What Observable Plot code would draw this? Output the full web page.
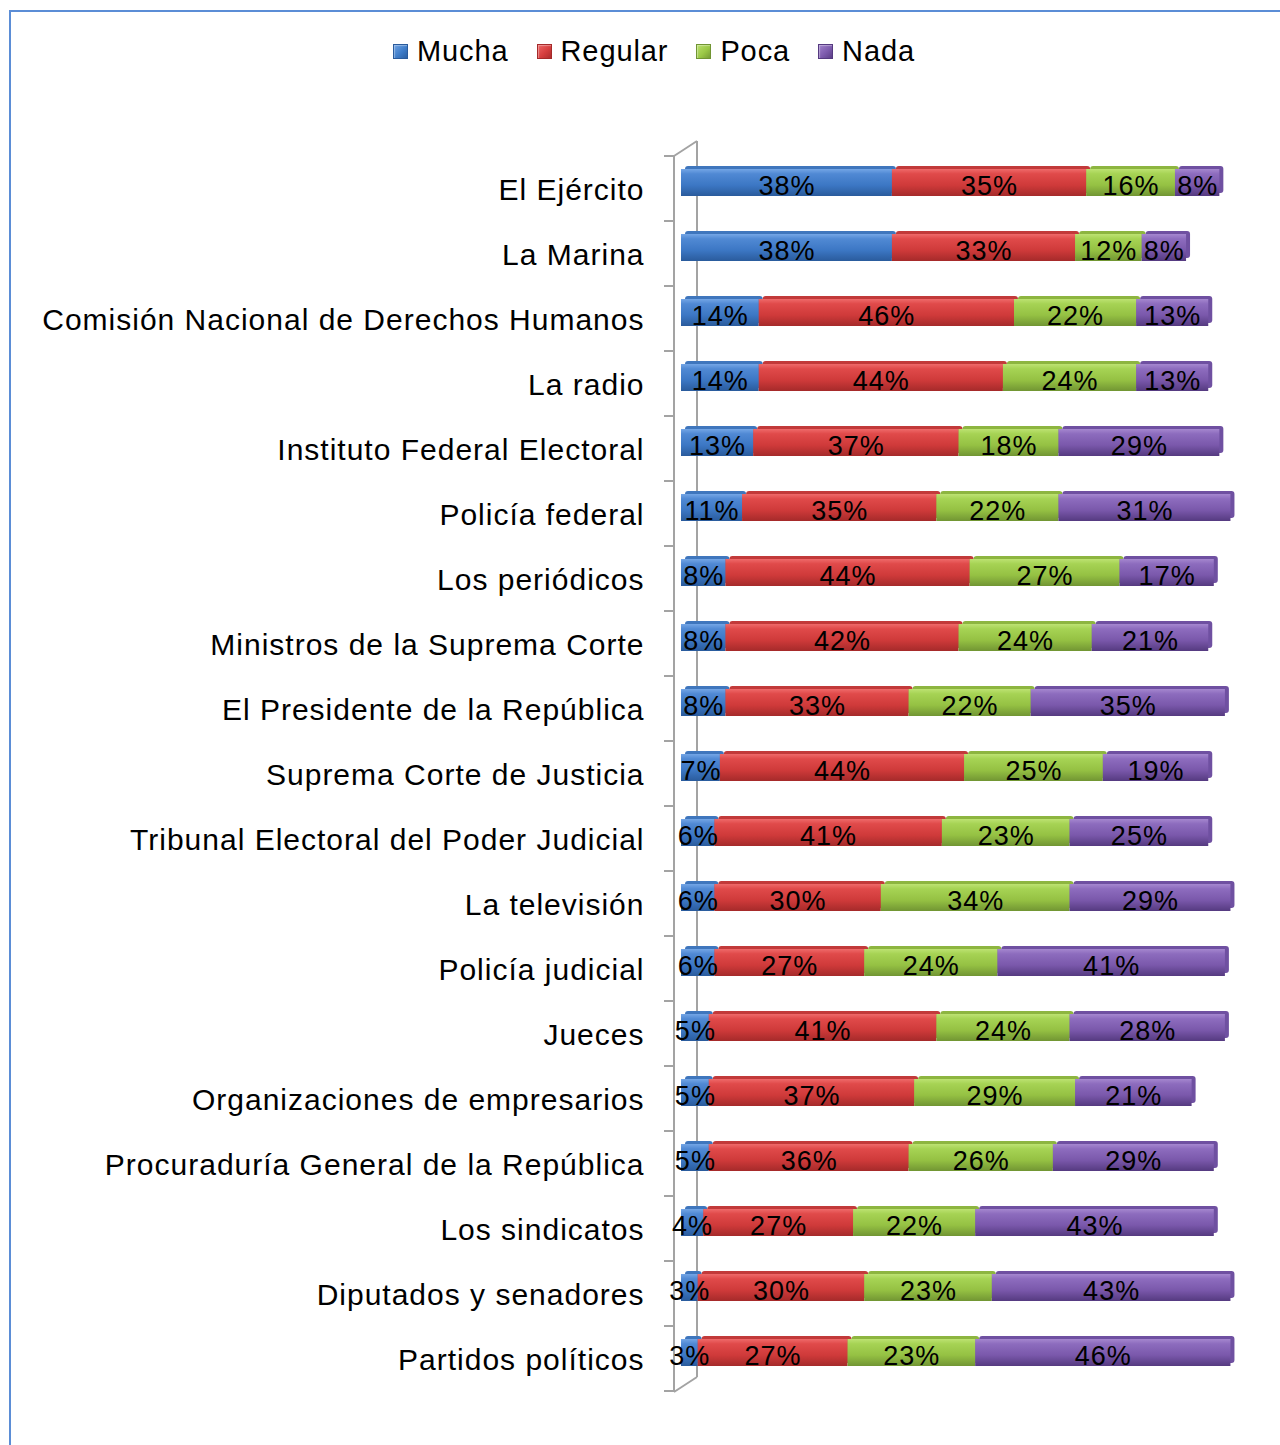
<!DOCTYPE html>
<html>
<head>
<meta charset="utf-8">
<script src="https://cdn.jsdelivr.net/npm/d3@7"></script>
<script src="https://cdn.jsdelivr.net/npm/@observablehq/plot@0.6"></script>
<style>
  html, body { margin: 0; padding: 0; background: #fff; }
  body { width: 1280px; height: 1445px; overflow: hidden; position: relative; font-family: "Liberation Sans", Arial, sans-serif; }
  #frame { position: absolute; left: 9px; top: 10px; width: 1400px; height: 1600px;
           border-top: 2px solid #5b8dd6; border-left: 2px solid #5b8dd6; pointer-events: none; }
  #legend { height: 100px; display: flex; justify-content: center; align-items: flex-start;
            padding-top: 33px; box-sizing: border-box; padding-left: 28px; }
  .item { display: flex; align-items: center; margin: 0 14px; font-size: 29px; letter-spacing: 0.9px; color: #000; line-height: 36px; }
  .sw { width: 15px; height: 15px; margin-right: 9px; box-sizing: border-box; }
  #chart svg text { letter-spacing: 1px; }
  #chart svg g.cats text { letter-spacing: 0.9px; }
</style>
</head>
<body>
<div id="legend"></div>
<div id="chart"></div>
<div id="frame"></div>
<script>
const categories = [
  "El Ejército",
  "La Marina",
  "Comisión Nacional de Derechos Humanos",
  "La radio",
  "Instituto Federal Electoral",
  "Policía federal",
  "Los periódicos",
  "Ministros de la Suprema Corte",
  "El Presidente de la República",
  "Suprema Corte de Justicia",
  "Tribunal Electoral del Poder Judicial",
  "La televisión",
  "Policía judicial",
  "Jueces",
  "Organizaciones de empresarios",
  "Procuraduría General de la República",
  "Los sindicatos",
  "Diputados y senadores",
  "Partidos políticos"
];
const series = ["Mucha", "Regular", "Poca", "Nada"];
const mucha   = [38, 38, 14, 14, 13, 11,  8,  8,  8,  7,  6,  6,  6,  5,  5,  5,  4,  3,  3];
const regular = [35, 33, 46, 44, 37, 35, 44, 42, 33, 44, 41, 30, 27, 41, 37, 36, 27, 30, 27];
const poca    = [16, 12, 22, 24, 18, 22, 27, 24, 22, 25, 23, 34, 24, 24, 29, 26, 22, 23, 23];
const nada    = [ 8,  8, 13, 13, 29, 31, 17, 21, 35, 19, 25, 29, 41, 28, 21, 29, 43, 43, 46];

const seriesValues = [mucha, regular, poca, nada];
const baseColors = ["#3f7dc9", "#d63e3e", "#9bc846", "#7d5bad"];
const depthColors = ["#3f76bd", "#c23a3a", "#8db540", "#6f50a1"];
const gradStops = [
  ["#74a6e6", "#5089d4", "#3c77c4", "#2a5b9c"],
  ["#ef6a6a", "#e04a4a", "#cf3a3a", "#a52a2a"],
  ["#bde272", "#a6d354", "#95c143", "#719533"],
  ["#a587cf", "#8d6cbe", "#7a58ab", "#553a80"]
];

const data = categories.flatMap((c, i) =>
  series.map((s, j) => ({category: c, series: s, k: j, value: seriesValues[j][i]}))
);

// Legend
const legend = d3.select("#legend");
series.forEach((s, j) => {
  const it = legend.append("div").attr("class", "item");
  it.append("div").attr("class", "sw")
    .style("background", `linear-gradient(135deg, ${gradStops[j][0]}, ${baseColors[j]} 55%, ${gradStops[j][3]})`)
    .style("box-shadow", `inset 0 0 0 1px ${gradStops[j][3]}, inset 2px 2px 1px rgba(255,255,255,0.35)`);
  it.append("span").text(s);
});

const inset = 19;

function axisFrame(index, scales, values, dims) {
  const y = scales.y, x = scales.x;
  const step = y(categories[1]) - y(categories[0]);
  const top = y(categories[0]);
  const bottom = y(categories[categories.length - 1]) + step;
  const x0 = x(0);
  const fx = x0 - 7, bx = x0 + 16;
  const g = d3.create("svg:g").attr("stroke", "#a3a3a3").attr("stroke-width", 2).attr("fill", "none");
  g.append("line").attr("x1", bx).attr("x2", bx).attr("y1", top - 9).attr("y2", bottom - 8);
  g.append("line").attr("x1", fx).attr("x2", fx).attr("y1", top + 6).attr("y2", bottom + 7);
  g.append("line").attr("x1", fx).attr("x2", bx).attr("y1", top + 6).attr("y2", top - 9);
  g.append("line").attr("x1", fx).attr("x2", bx).attr("y1", bottom + 7).attr("y2", bottom - 8);
  for (let k = 0; k <= categories.length; k++) {
    const yy = top + 6 + k * step;
    g.append("line").attr("x1", fx - 10).attr("x2", fx).attr("y1", yy).attr("y2", yy);
  }
  return g.node();
}

const plot = Plot.plot({
  width: 1280,
  height: 1345,
  marginLeft: 681,
  marginRight: 44,
  marginTop: 49,
  marginBottom: 60,
  x: {domain: [0, 100], axis: null},
  y: {domain: categories, axis: null, padding: 0},
  color: {type: "identity"},
  style: {fontFamily: "'Liberation Sans', Arial, sans-serif", background: "transparent", overflow: "visible"},
  marks: [
    axisFrame,
    Plot.barX(data, Plot.stackX({
      x: "value", y: "category", order: null,
      fill: d => depthColors[d.k],
      insetTop: inset, insetBottom: inset, dx: 4, dy: -3, rx: 3
    })),
    Plot.barX(data, Plot.stackX({
      x: "value", y: "category", order: null,
      fill: d => `url(#grad${d.k})`,
      insetTop: inset, insetBottom: inset
    })),
    Plot.text(data, Plot.stackX({
      x: "value", y: "category", order: null,
      text: d => d.value + "%",
      fill: "#000", fontSize: 27, dy: 3
    })),
    Plot.text(categories, {
      y: d => d, text: d => d, frameAnchor: "left", textAnchor: "end",
      dx: -37, dy: 7, fontSize: 30, fill: "#000", ariaLabel: "cats"
    })
  ]
});

const svg = d3.select(plot);
svg.selectAll('g[aria-label="cats"]').classed("cats", true);
const defs = svg.insert("defs", ":first-child");
gradStops.forEach((st, j) => {
  const lg = defs.append("linearGradient").attr("id", `grad${j}`)
    .attr("x1", 0).attr("x2", 0).attr("y1", 0).attr("y2", 1);
  [[0, st[0]], [0.18, st[1]], [0.6, st[2]], [1, st[3]]].forEach(([o, c]) =>
    lg.append("stop").attr("offset", o).attr("stop-color", c));
});

document.getElementById("chart").appendChild(plot);
</script>
</body>
</html>
